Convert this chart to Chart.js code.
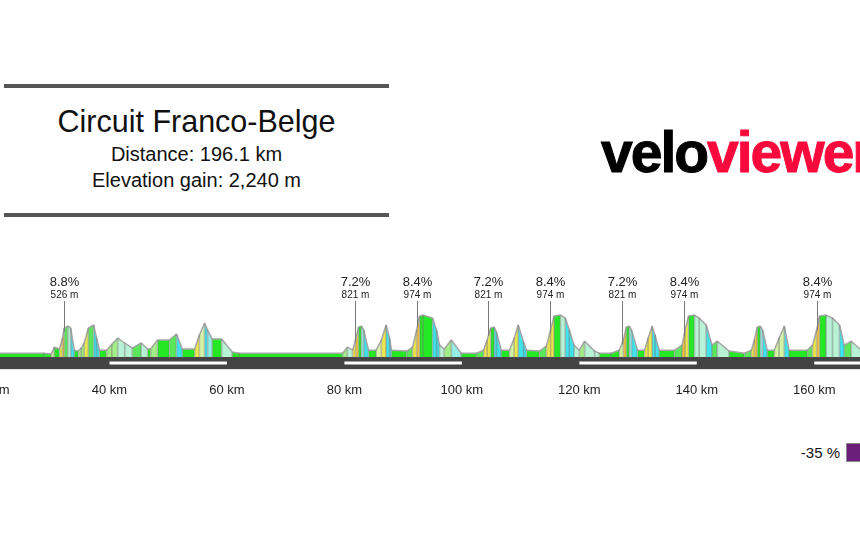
<!DOCTYPE html>
<html lang="en">

<head>
    <meta charset="UTF-8">
    <title>Circuit Franco-Belge</title>
    <script src="https://cdn.jsdelivr.net/npm/chart.js@4"></script>
    <style>
        html,
        body {
            margin: 0;
            padding: 0;
            width: 860px;
            height: 546px;
            overflow: hidden;
            background-color: #ffffff;
            font-family: 'Liberation Sans', Arial, sans-serif;
            position: relative;
        }

        #chart-container {
            position: absolute;
            left: -8px;
            top: 250px;
            width: 881px;
            height: 161px;
        }

        .rule {
            position: absolute;
            left: 4px;
            width: 385px;
            height: 4px;
            background: #555;
        }

        .title-line {
            position: absolute;
            left: 4px;
            width: 385px;
            text-align: center;
            color: #111;
            white-space: nowrap;
        }

        #logo {
            position: absolute;
            left: 601px;
            top: 124px;
            font-size: 57px;
            line-height: 56px;
            font-weight: bold;
            letter-spacing: -2px;
            white-space: nowrap;
            -webkit-text-stroke: 1px;
        }

        #logo .velo { color: #000; }
        #logo .viewer { color: #fa0a3c; }

        #grad-label {
            position: absolute;
            right: 20px;
            top: 445px;
            font-size: 15px;
            line-height: 15px;
            color: #111;
        }

        #grad-swatch {
            position: absolute;
            left: 846px;
            top: 443px;
            width: 18px;
            height: 17px;
            background: #6b1f7b;
            border: 1px solid #888;
        }
    </style>
</head>

<body>
    <div class="rule" style="top:84px"></div>
    <div class="title-line" style="top:106px;font-size:30.5px;line-height:30px">Circuit Franco-Belge</div>
    <div class="title-line" style="top:144px;font-size:20px;line-height:20px">Distance: 196.1 km</div>
    <div class="title-line" style="top:170px;font-size:20px;line-height:20px">Elevation gain: 2,240 m</div>
    <div class="rule" style="top:213px"></div>

    <div id="logo"><span class="velo">velo</span><span class="viewer">viewer</span></div>

    <div id="grad-label">-35 %</div>
    <div id="grad-swatch"></div>

    <div id="chart-container">
        <canvas id="profile"></canvas>
    </div>

    <script>
        // profile: distance (km) and height above the profile base (m)
        const distanceKm = [
            20.0, 28.8, 30.1, 30.6, 31.5, 32.0, 32.3, 32.9, 33.4, 34.0,
            34.7, 35.2, 35.7, 36.4, 37.3, 37.8, 38.3, 39.5, 40.4, 41.4,
            42.6, 43.9, 45.4, 46.5, 47.0, 48.2, 50.2, 51.4, 52.4, 54.5,
            55.3, 56.2, 56.7, 57.5, 59.1, 60.9, 62.1, 79.7, 80.5, 81.4,
            81.9, 82.4, 82.9, 83.3, 84.1, 85.4, 86.3, 87.1, 87.7, 88.0,
            90.6, 91.6, 92.3, 92.8, 93.4, 95.0, 95.7, 96.2, 97.0, 98.2,
            99.9, 102.5, 103.7, 104.3, 104.9, 105.5, 105.9, 106.7, 108.1, 108.9,
            109.6, 110.5, 111.0, 113.2, 114.4, 115.1, 115.7, 116.8, 117.6, 118.3,
            119.1, 120.0, 120.9, 122.6, 123.4, 125.4, 126.8, 127.5, 128.0, 128.5,
            128.9, 129.9, 131.1, 131.7, 132.4, 132.9, 133.6, 136.2, 137.5, 138.0,
            138.6, 139.6, 140.4, 141.6, 142.6, 143.5, 145.5, 148.1, 149.3, 149.8,
            150.3, 150.8, 151.2, 152.0, 153.2, 154.0, 154.9, 155.7, 158.8, 159.7,
            160.4, 160.9, 162.0, 163.1, 164.3, 165.1, 166.3, 168.0, 170.0
        ];
        const elevationM = [
            13, 13, 10, 33, 27, 63, 97, 103, 97, 23,
            20, 30, 47, 97, 107, 63, 23, 23, 43, 63,
            47, 30, 47, 27, 27, 57, 57, 77, 27, 27,
            73, 113, 90, 60, 60, 17, 13, 13, 33, 23,
            57, 100, 103, 90, 23, 23, 57, 107, 63, 23,
            20, 33, 90, 137, 140, 130, 90, 40, 27, 57,
            13, 13, 23, 57, 97, 100, 83, 23, 23, 63,
            107, 50, 23, 20, 37, 90, 137, 140, 130, 90,
            40, 23, 53, 20, 13, 13, 23, 57, 100, 103,
            90, 23, 23, 63, 103, 73, 23, 23, 40, 90,
            137, 140, 130, 107, 40, 53, 20, 13, 23, 57,
            100, 103, 90, 23, 23, 63, 103, 23, 23, 40,
            90, 137, 140, 130, 107, 40, 53, 23, 13
        ];

        // categorised climbs
        const climbKm = [32.2, 81.8, 92.4, 104.5, 115.0, 127.2, 137.8, 160.4];
        const climbGrade = [8.8, 7.2, 8.4, 7.2, 8.4, 7.2, 8.4, 8.4];
        const climbLength = [526, 821, 974, 821, 974, 821, 974, 974];

        // axis ticks and road markings
        const tickKm = [20, 40, 60, 80, 100, 120, 140, 160];
        const roadKm = [20, 40, 60, 80, 100, 120, 140, 160, 180];

        const FONT = "'Liberation Sans', Arial, sans-serif";

        function gradeColour(g) {
            if (g <= -4) return '#3fe3ec';
            if (g <= -2.5) return '#93eee6';
            if (g <= -0.8) return '#b8f3d6';
            if (g < 0.8) return '#25e825';
            if (g < 2) return '#5ae85a';
            if (g < 3.5) return '#a4ee88';
            if (g < 5) return '#d4f3a4';
            if (g < 8.5) return '#eee84e';
            return '#f4c43a';
        }

        function gradeOf(a, b) {
            return (b.y - a.y) / ((b.x - a.x) * 10);
        }

        function elevationAt(km) {
            for (let i = 1; i < distanceKm.length; i++) {
                if (km <= distanceKm[i]) {
                    const t = (km - distanceKm[i - 1]) / (distanceKm[i] - distanceKm[i - 1]);
                    return elevationM[i - 1] + t * (elevationM[i] - elevationM[i - 1]);
                }
            }
            return elevationM[elevationM.length - 1];
        }

        const climbLabels = {
            id: 'climbLabels',
            afterDatasetsDraw(chart) {
                const { ctx, chartArea, scales: { x, y } } = chart;
                ctx.save();
                climbKm.forEach((km, i) => {
                    const px = Math.round(x.getPixelForValue(km)) + 0.5;
                    const surface = y.getPixelForValue(elevationAt(km));
                    ctx.strokeStyle = '#7a7a7a';
                    ctx.lineWidth = 1;
                    ctx.beginPath();
                    ctx.moveTo(px, chartArea.top + 51);
                    ctx.lineTo(px, surface);
                    ctx.stroke();

                    ctx.fillStyle = '#222';
                    ctx.textAlign = 'center';
                    ctx.textBaseline = 'middle';
                    ctx.font = '13px ' + FONT;
                    ctx.fillText(climbGrade[i].toFixed(1) + '%', px, chartArea.top + 32);
                    ctx.font = '10px ' + FONT;
                    ctx.fillText(climbLength[i] + ' m', px, chartArea.top + 45);
                });
                ctx.restore();
            }
        };

        const profilePoints = distanceKm.map((km, i) => ({ x: km, y: elevationM[i] }));

        new Chart(document.getElementById('profile'), {
            type: 'line',
            data: {
                datasets: [
                    {
                        label: 'Road',
                        data: [{ x: 20, y: 0 }, { x: 170, y: 0 }],
                        borderWidth: 0,
                        pointRadius: 0,
                        fill: 'start',
                        backgroundColor: '#444444',
                        order: 10
                    },
                    {
                        label: 'Markings',
                        data: roadKm.map(km => ({ x: km, y: -20 })),
                        borderWidth: 3,
                        borderColor: '#ffffff',
                        pointRadius: 0,
                        fill: false,
                        segment: {
                            borderColor: ctx => (ctx.p0.parsed.x / 20) % 2 === 0 ? '#ffffff' : 'rgba(0,0,0,0)'
                        },
                        order: 9
                    },
                    {
                        label: 'Elevation',
                        data: profilePoints,
                        borderColor: '#a6a6a6',
                        borderWidth: 1.5,
                        pointRadius: 0,
                        tension: 0,
                        fill: { value: 0 },
                        backgroundColor: '#25e825',
                        segment: {
                            backgroundColor: ctx => gradeColour(gradeOf(ctx.p0.parsed, ctx.p1.parsed))
                        },
                        order: 3
                    },
                    {
                        type: 'bar',
                        label: 'Dividers',
                        data: profilePoints,
                        backgroundColor: 'rgba(120,120,120,0.45)',
                        barThickness: 1,
                        order: 2
                    }
                ]
            },
            options: {
                responsive: true,
                maintainAspectRatio: false,
                animation: false,
                events: [],
                layout: { padding: 0, autoPadding: false },
                plugins: {
                    legend: { display: false },
                    tooltip: { enabled: false },
                    title: { display: false }
                },
                scales: {
                    x: {
                        type: 'linear',
                        min: 20,
                        max: 170,
                        offset: false,
                        grid: { display: false, drawTicks: false },
                        border: { display: false },
                        afterBuildTicks: axis => {
                            axis.ticks = tickKm.map(v => ({ value: v }));
                        },
                        // the profile runs past both edges, so let the end labels overflow
                        afterFit: axis => {
                            axis.paddingLeft = 0;
                            axis.paddingRight = 0;
                        },
                        ticks: {
                            padding: 13,
                            color: '#222',
                            font: { family: FONT, size: 13 },
                            maxRotation: 0,
                            autoSkip: false,
                            callback: v => v + ' km'
                        }
                    },
                    y: {
                        display: false,
                        min: -41,
                        max: 357
                    }
                }
            },
            plugins: [climbLabels]
        });
    </script>
</body>

</html>
